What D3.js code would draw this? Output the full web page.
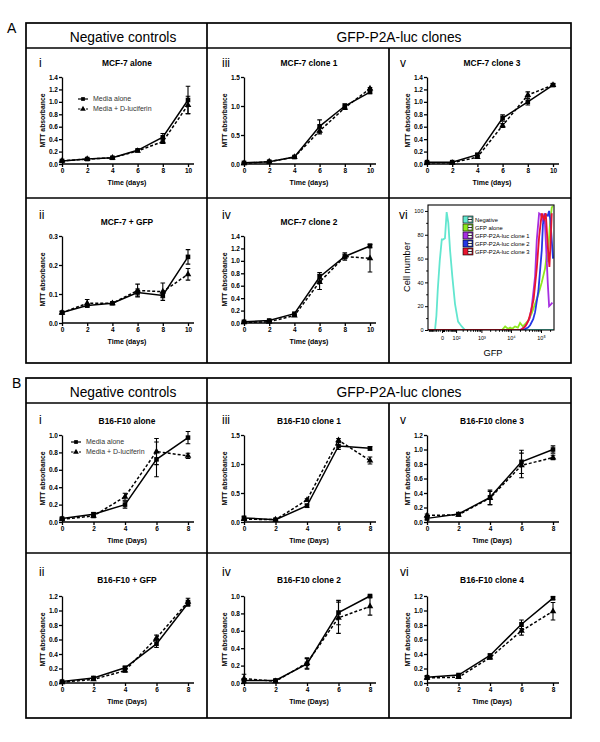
<!DOCTYPE html>
<html>
<head>
<meta charset="utf-8">
<script src="https://cdn.jsdelivr.net/npm/d3@7"></script>
<style>
body { margin: 0; background: #fff; }
svg { display: block; }
text { font-family: "Liberation Sans", Arial, sans-serif; }
</style>
</head>
<body>
<script>
// ---- data ----
const daysA = [0, 2, 4, 6, 8, 10];
const daysB = [0, 2, 4, 6, 8];

const ticks03 = [0, 0.1, 0.2, 0.3];
const ticks10 = [0, 0.2, 0.4, 0.6, 0.8, 1.0];
const ticks12 = [0, 0.2, 0.4, 0.6, 0.8, 1.0, 1.2];
const ticks14 = [0, 0.2, 0.4, 0.6, 0.8, 1.0, 1.2, 1.4];
const ticks15 = [0, 0.5, 1.0, 1.5];

// A: MCF-7
const mcfAloneMedia = [0.05, 0.08, 0.10, 0.22, 0.43, 1.03];
const mcfAloneMediaErr = [0.01, 0.01, 0.01, 0.01, 0.06, 0.22];
const mcfAloneLuc = [0.05, 0.08, 0.10, 0.21, 0.36, 0.95];
const mcfAloneLucErr = [0.01, 0.01, 0.01, 0.01, 0.03, 0.14];

const mcfGfpMedia = [0.036, 0.060, 0.068, 0.105, 0.095, 0.228];
const mcfGfpMediaErr = [0.004, 0.004, 0.002, 0.012, 0.008, 0.025];
const mcfGfpLuc = [0.035, 0.068, 0.068, 0.112, 0.108, 0.168];
const mcfGfpLucErr = [0.004, 0.013, 0.003, 0.022, 0.030, 0.020];

const mcfC1Media = [0.02, 0.04, 0.12, 0.65, 1.00, 1.24];
const mcfC1MediaErr = [0.01, 0.01, 0.01, 0.11, 0.04, 0.02];
const mcfC1Luc = [0.01, 0.04, 0.12, 0.57, 0.97, 1.30];
const mcfC1LucErr = [0.01, 0.01, 0.01, 0.05, 0.03, 0.02];

const mcfC2Media = [0.02, 0.04, 0.15, 0.74, 1.07, 1.24];
const mcfC2MediaErr = [0.01, 0.01, 0.01, 0.07, 0.06, 0.03];
const mcfC2Luc = [0.01, 0.02, 0.12, 0.66, 1.07, 1.04];
const mcfC2LucErr = [0.01, 0.01, 0.01, 0.12, 0.04, 0.22];

const mcfC3Media = [0.03, 0.03, 0.15, 0.74, 1.00, 1.27];
const mcfC3MediaErr = [0.01, 0.01, 0.02, 0.05, 0.05, 0.02];
const mcfC3Luc = [0.02, 0.02, 0.11, 0.62, 1.11, 1.27];
const mcfC3LucErr = [0.01, 0.01, 0.02, 0.03, 0.05, 0.02];

// B: B16-F10
const bAloneMedia = [0.04, 0.09, 0.20, 0.72, 0.97];
const bAloneMediaErr = [0.01, 0.02, 0.04, 0.20, 0.07];
const bAloneLuc = [0.03, 0.07, 0.29, 0.81, 0.76];
const bAloneLucErr = [0.01, 0.02, 0.04, 0.15, 0.03];

const bGfpMedia = [0.02, 0.07, 0.21, 0.54, 1.10];
const bGfpMediaErr = [0.01, 0.02, 0.02, 0.05, 0.04];
const bGfpLuc = [0.01, 0.05, 0.17, 0.62, 1.12];
const bGfpLucErr = [0.01, 0.01, 0.02, 0.04, 0.05];

const bC1Media = [0.07, 0.04, 0.28, 1.31, 1.27];
const bC1MediaErr = [0.03, 0.01, 0.03, 0.06, 0.03];
const bC1Luc = [0.05, 0.04, 0.38, 1.41, 1.06];
const bC1LucErr = [0.02, 0.01, 0.02, 0.03, 0.06];

const bC2Media = [0.03, 0.03, 0.22, 0.81, 1.00];
const bC2MediaErr = [0.02, 0.01, 0.06, 0.14, 0.01];
const bC2Luc = [0.05, 0.02, 0.23, 0.75, 0.88];
const bC2LucErr = [0.05, 0.01, 0.06, 0.18, 0.10];

const bC3Media = [0.05, 0.11, 0.34, 0.83, 1.00];
const bC3MediaErr = [0.02, 0.02, 0.10, 0.16, 0.05];
const bC3Luc = [0.09, 0.10, 0.33, 0.78, 0.89];
const bC3LucErr = [0.02, 0.02, 0.09, 0.17, 0.03];

const bC4Media = [0.08, 0.11, 0.38, 0.81, 1.17];
const bC4MediaErr = [0.02, 0.01, 0.02, 0.06, 0.02];
const bC4Luc = [0.07, 0.08, 0.35, 0.72, 0.99];
const bC4LucErr = [0.02, 0.01, 0.02, 0.06, 0.12];

// flow cytometry histogram (GFP intensity, % of max)
const flowNames = ["Negative", "GFP alone", "GFP-P2A-luc clone 1", "GFP-P2A-luc clone 2", "GFP-P2A-luc clone 3"];
const flowColors = ["#62e6cf", "#8ee81e", "#a62ee0", "#2438e6", "#e8152e"];
const negX = [-100, -37, -28, -20, -10, -1, 4, 13, 22, 32, 44, 62, 88, 125, 182, 250, 1000, 10000, 100000, 260000];
const negY = [0, 0, 12, 34, 58, 76, 76, 77, 99, 90, 67, 45, 22, 7, 3, 0, 0, 0, 0, 0];
const greenX = [-100, 5000, 6400, 8000, 9400, 11000, 13700, 17000, 20200, 25000, 29600, 38000, 49000, 63600, 82000, 106000, 137000, 155000, 165000, 179000, 200000, 228000, 250000];
const greenY = [0, 0, 3, 1, 2, 1, 3, 2, 6, 3, 5, 8, 14, 22, 30, 40, 52, 63, 57, 72, 90, 103, 104];
const purpleX = [-100, 20000, 27000, 33700, 42000, 49400, 56000, 63600, 72500, 86500, 98500, 114700, 129700, 147600, 168000, 185700, 205000, 239000];
const purpleY = [0, 0, 2, 5, 10, 20, 32, 45, 76, 98, 97, 92, 98, 70, 39, 20, 21, 23];
const blueX = [-100, 25000, 37000, 43400, 55000, 63600, 82000, 106000, 116000, 136800, 168000, 185700, 205000, 228000, 250000];
const blueY = [0, 0, 2, 4, 9, 15, 33, 67, 89, 97, 96, 100, 92, 75, 60];
const redX = [-100, 22000, 30000, 38100, 47000, 57000, 72500, 86500, 106000, 126600, 144300, 168000, 190000, 205000, 228000];
const redY = [0, 0, 3, 8, 16, 26, 52, 78, 98, 93, 98, 70, 53, 70, 98];
const flowYTicks = [0, 20, 40, 60, 80, 100];
const flowXTicks = [0, 100, 1000, 10000, 100000];
const flowXLabels = ["0", "10\u00b2", "10\u00b3", "10\u2074", "10\u2075"];

// ---- layout ----
const colX = [62, 244, 427];
const numX = [39, 222, 400];
const plotW = 126;
const rowA1 = { numY: 67, titleY: 66, top: 77, bottom: 164 };
const rowA2 = { numY: 219, titleY: 225, top: 236, bottom: 323 };
const rowB1 = { numY: 424, titleY: 424, top: 435, bottom: 522 };
const rowB2 = { numY: 576, titleY: 583, top: 596, bottom: 683 };

const svg = d3.select("body").append("svg").attr("width", 600).attr("height", 742);

// boxes
function frame(top, letter, letterX) {
    const g = svg.append("g").attr("fill", "none").attr("stroke", "#000").attr("stroke-width", 1.7);
    g.append("rect").attr("x", 26).attr("y", top).attr("width", 545).attr("height", 340);
    g.append("line").attr("x1", 26).attr("x2", 571).attr("y1", top + 25).attr("y2", top + 25);
    g.append("line").attr("x1", 26).attr("x2", 571).attr("y1", top + 175).attr("y2", top + 175);
    g.append("line").attr("x1", 207).attr("x2", 207).attr("y1", top).attr("y2", top + 340);
    g.append("line").attr("x1", 389).attr("x2", 389).attr("y1", top + 25).attr("y2", top + 340);
    svg.append("text").attr("x", letterX).attr("y", top + 10).attr("font-size", 14).text(letter);
    svg.append("text").attr("x", 123).attr("y", top + 19).attr("text-anchor", "middle")
        .attr("font-size", 13.8).text("Negative controls");
    svg.append("text").attr("x", 399).attr("y", top + 19).attr("text-anchor", "middle")
        .attr("font-size", 13.8).text("GFP-P2A-luc clones");
}
frame(23, "A", 7);
frame(378, "B", 12);

function series(g, x, y, days, vals, errs, dashed, sym) {
    const line = d3.line().x((d, i) => x(days[i])).y(d => y(d));
    g.append("path").datum(vals).attr("d", line).attr("fill", "none")
        .attr("stroke", "#000").attr("stroke-width", 1.5)
        .attr("stroke-dasharray", dashed ? "3,2" : null);
    vals.forEach((v, i) => {
        const cx = x(days[i]), y1 = y(v - errs[i]), y2 = y(v + errs[i]);
        g.append("path").attr("d", `M${cx},${y1}V${y2}M${cx - 2.3},${y1}h4.6M${cx - 2.3},${y2}h4.6`)
            .attr("stroke", "#000").attr("stroke-width", 1.1).attr("fill", "none");
    });
    g.selectAll(null).data(vals).join("path")
        .attr("transform", (d, i) => `translate(${x(days[i])},${y(d)})`)
        .attr("d", d3.symbol(sym, sym === d3.symbolSquare ? 21 : 19))
        .attr("fill", "#000");
}

function mttPanel(p) {
    const r = p.row, x0 = colX[p.col];
    const x = d3.scaleLinear().domain([0, d3.max(p.days)]).range([x0, x0 + plotW]);
    const y = d3.scaleLinear().domain([0, d3.max(p.yTicks)]).range([r.bottom, r.top]);
    const g = svg.append("g");

    g.append("text").attr("x", numX[p.col]).attr("y", r.numY).attr("font-size", 12).text(p.num);
    g.append("text").attr("x", x0 + plotW / 2 + 2).attr("y", r.titleY).attr("text-anchor", "middle")
        .attr("font-size", 8.4).attr("font-weight", "bold").text(p.title);

    const xa = g.append("g").attr("transform", `translate(0,${r.bottom})`)
        .call(d3.axisBottom(x).tickValues(p.days).tickSize(3).tickSizeOuter(0).tickPadding(1.5));
    xa.select(".domain").attr("d", `M${x0},0H${x0 + plotW + 6}`);
    const ya = g.append("g").attr("transform", `translate(${x0},0)`)
        .call(d3.axisLeft(y).tickValues(p.yTicks).tickSize(3).tickSizeOuter(0).tickPadding(1)
            .tickFormat(d3.format(".1f")));
    [xa, ya].forEach(a => {
        a.attr("font-family", null).attr("font-size", 6.5).attr("font-weight", "bold");
        a.selectAll("path,line").attr("stroke-width", 1.3);
    });

    g.append("text").attr("x", x0 + plotW / 2 + 2).attr("y", r.bottom + 21).attr("text-anchor", "middle")
        .attr("font-size", 7).attr("font-weight", "bold").text(p.xLabel);
    g.append("text").attr("transform", `translate(${x0 - 17},${(r.top + r.bottom) / 2}) rotate(-90)`)
        .attr("text-anchor", "middle").attr("font-size", 6.8).attr("font-weight", "bold")
        .text("MTT absorbance");

    series(g, x, y, p.days, p.luc, p.lucErr, true, d3.symbolTriangle);
    series(g, x, y, p.days, p.media, p.mediaErr, false, d3.symbolSquare);

    if (p.legend) {
        const lx = x0 + p.legend[0], ly = r.top + p.legend[1];
        [["Media alone", false, d3.symbolSquare], ["Media + D-luciferin", true, d3.symbolTriangle]]
            .forEach(([label, dashed, sym], i) => {
                const yy = ly + i * 10;
                g.append("line").attr("x1", lx).attr("x2", lx + 10).attr("y1", yy).attr("y2", yy)
                    .attr("stroke", "#000").attr("stroke-width", 1.2)
                    .attr("stroke-dasharray", dashed ? "2.5,1.5" : null);
                g.append("path").attr("transform", `translate(${lx + 5},${yy})`)
                    .attr("d", d3.symbol(sym, 14));
                g.append("text").attr("x", lx + 15).attr("y", yy + 2.4).attr("font-size", 7)
                    .attr("fill", "#333").text(label);
            });
    }
}

const panels = [
    { num: "i", title: "MCF-7 alone", col: 0, row: rowA1, days: daysA, yTicks: ticks14, xLabel: "Time (days)",
      media: mcfAloneMedia, mediaErr: mcfAloneMediaErr, luc: mcfAloneLuc, lucErr: mcfAloneLucErr, legend: [16, 22] },
    { num: "iii", title: "MCF-7 clone 1", col: 1, row: rowA1, days: daysA, yTicks: ticks15, xLabel: "Time (days)",
      media: mcfC1Media, mediaErr: mcfC1MediaErr, luc: mcfC1Luc, lucErr: mcfC1LucErr },
    { num: "v", title: "MCF-7 clone 3", col: 2, row: rowA1, days: daysA, yTicks: ticks14, xLabel: "Time (days)",
      media: mcfC3Media, mediaErr: mcfC3MediaErr, luc: mcfC3Luc, lucErr: mcfC3LucErr },
    { num: "ii", title: "MCF-7 + GFP", col: 0, row: rowA2, days: daysA, yTicks: ticks03, xLabel: "Time (days)",
      media: mcfGfpMedia, mediaErr: mcfGfpMediaErr, luc: mcfGfpLuc, lucErr: mcfGfpLucErr },
    { num: "iv", title: "MCF-7 clone 2", col: 1, row: rowA2, days: daysA, yTicks: ticks14, xLabel: "Time (days)",
      media: mcfC2Media, mediaErr: mcfC2MediaErr, luc: mcfC2Luc, lucErr: mcfC2LucErr },
    { num: "i", title: "B16-F10 alone", col: 0, row: rowB1, days: daysB, yTicks: ticks10, xLabel: "Time (Days)",
      media: bAloneMedia, mediaErr: bAloneMediaErr, luc: bAloneLuc, lucErr: bAloneLucErr, legend: [9, 7] },
    { num: "iii", title: "B16-F10 clone 1", col: 1, row: rowB1, days: daysB, yTicks: ticks15, xLabel: "Time (Days)",
      media: bC1Media, mediaErr: bC1MediaErr, luc: bC1Luc, lucErr: bC1LucErr },
    { num: "v", title: "B16-F10 clone 3", col: 2, row: rowB1, days: daysB, yTicks: ticks12, xLabel: "Time (Days)",
      media: bC3Media, mediaErr: bC3MediaErr, luc: bC3Luc, lucErr: bC3LucErr },
    { num: "ii", title: "B16-F10 + GFP", col: 0, row: rowB2, days: daysB, yTicks: ticks12, xLabel: "Time (Days)",
      media: bGfpMedia, mediaErr: bGfpMediaErr, luc: bGfpLuc, lucErr: bGfpLucErr },
    { num: "iv", title: "B16-F10 clone 2", col: 1, row: rowB2, days: daysB, yTicks: ticks10, xLabel: "Time (Days)",
      media: bC2Media, mediaErr: bC2MediaErr, luc: bC2Luc, lucErr: bC2LucErr },
    { num: "vi", title: "B16-F10 clone 4", col: 2, row: rowB2, days: daysB, yTicks: ticks12, xLabel: "Time (Days)",
      media: bC4Media, mediaErr: bC4MediaErr, luc: bC4Luc, lucErr: bC4LucErr }
];
panels.forEach(mttPanel);

// ---- flow cytometry panel (A vi) ----
(function () {
    const left = 428, right = 554, top = 205, bottom = 330;
    const x = d3.scaleSymlog().constant(52).domain([-100, 270000]).range([left, right]);
    const y = d3.scaleLinear().domain([0, 105]).range([bottom, top]);
    const g = svg.append("g");
    g.append("text").attr("x", 399).attr("y", 219).attr("font-size", 12).text("vi");

    g.append("clipPath").attr("id", "flowclip").append("rect")
        .attr("x", left).attr("y", top).attr("width", right - left).attr("height", bottom - top);
    const curves = [[negX, negY], [greenX, greenY], [purpleX, purpleY], [blueX, blueY], [redX, redY]];
    const line = d3.line().x(d => x(d[0])).y(d => y(d[1]));
    curves.forEach(([xs, ys], k) => {
        g.append("path").datum(xs.map((v, i) => [v, ys[i]])).attr("d", line)
            .attr("clip-path", "url(#flowclip)").attr("fill", "none")
            .attr("stroke", flowColors[k]).attr("stroke-width", 1.8);
    });

    g.append("rect").attr("x", left).attr("y", top).attr("width", right - left).attr("height", bottom - top)
        .attr("fill", "none").attr("stroke", "#000").attr("stroke-width", 1.1);

    // y axis
    const ya = g.append("g").attr("transform", `translate(${left},0)`)
        .call(d3.axisLeft(y).tickValues(flowYTicks).tickSize(3).tickSizeOuter(0).tickPadding(1.5));
    ya.select(".domain").remove();
    g.append("g").attr("transform", `translate(${left},0)`)
        .call(d3.axisLeft(y).tickValues(d3.range(10, 101, 20)).tickSize(1.8).tickSizeOuter(0).tickFormat(""))
        .select(".domain").remove();

    // x axis
    const minors = [-90, -80, -70, -60, -50, -40, -30, -20, -10];
    [1, 10, 100, 1000, 10000, 100000].forEach(dec => {
        for (let m = 2; m <= 9; m++) if (dec * m < 270000) minors.push(dec * m);
    });
    const xa = g.append("g").attr("transform", `translate(0,${bottom})`)
        .call(d3.axisBottom(x).tickValues(flowXTicks).tickSize(3).tickSizeOuter(0).tickPadding(3)
            .tickFormat((d, i) => flowXLabels[i]));
    xa.select(".domain").remove();
    g.append("g").attr("transform", `translate(0,${bottom})`)
        .call(d3.axisBottom(x).tickValues(minors).tickSize(1.8).tickSizeOuter(0).tickFormat(""))
        .select(".domain").remove();
    g.selectAll("g").attr("font-family", null).attr("font-size", 5.5);

    g.append("text").attr("x", 493).attr("y", 356).attr("text-anchor", "middle").attr("font-size", 9.3).text("GFP");
    g.append("text").attr("transform", `translate(410,267) rotate(-90)`).attr("text-anchor", "middle")
        .attr("font-size", 9.3).text("Cell number");

    // legend
    flowNames.forEach((name, i) => {
        const ly = 216 + i * 8;
        g.append("rect").attr("x", 463).attr("y", ly).attr("width", 10).attr("height", 7)
            .attr("fill", flowColors[i]).attr("stroke", "#000").attr("stroke-width", 0.6);
        g.append("rect").attr("x", 468).attr("y", ly + 1).attr("width", 4).attr("height", 5)
            .attr("fill", "#fff").attr("stroke", "#000").attr("stroke-width", 0.5);
        g.append("line").attr("x1", 468).attr("x2", 472).attr("y1", ly + 3.5).attr("y2", ly + 3.5)
            .attr("stroke", "#000").attr("stroke-width", 0.8);
        g.append("text").attr("x", 475).attr("y", ly + 5.6).attr("font-size", 5.8).text(name);
    });
})();
</script>
</body>
</html>
